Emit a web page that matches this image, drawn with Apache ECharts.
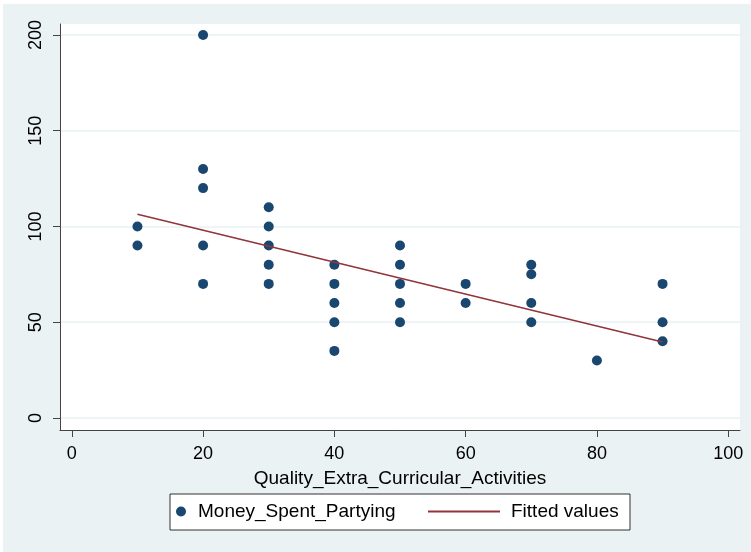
<!DOCTYPE html>
<html>
<head>
<meta charset="utf-8">
<script src="https://cdn.jsdelivr.net/npm/echarts@6/dist/echarts.min.js"></script>
<style>
  html, body { margin: 0; padding: 0; background: #fff; }
  #chart { width: 751px; height: 552px; }
</style>
</head>
<body>
<div id="chart"></div>
<script>
// observed points (x = activities rating, y = money spent)
const activity = [10, 10, 20, 20, 20, 20, 20, 30, 30, 30, 30, 30,
                  40, 40, 40, 40, 40, 50, 50, 50, 50, 50, 60, 60,
                  70, 70, 70, 70, 80, 90, 90, 90];
const money = [100, 90, 200, 130, 120, 90, 70, 110, 100, 90, 80, 70,
               80, 70, 60, 50, 35, 90, 80, 70, 60, 50, 70, 60,
               80, 75, 60, 50, 30, 70, 50, 40];
// fitted line end points
const fitX = [10, 90];
const fitY = [106.4, 39.6];
const xTicks = [0, 20, 40, 60, 80, 100];
const yTicks = [0, 50, 100, 150, 200];

const navy = '#1a476f';
const maroon = '#90353b';
const font = 'Liberation Sans, Arial, sans-serif';

const myChart = echarts.init(document.getElementById('chart'));

const option = {
    backgroundColor: '#fff',
    animation: false,
    graphic: [
        { type: 'rect', z: -10, shape: { x: 3, y: 4, width: 748, height: 548 }, style: { fill: '#eaf2f3' } },
        { type: 'rect', z: 1, shape: { x: 170, y: 494, width: 460, height: 36 }, style: { fill: '#fff', stroke: '#333', lineWidth: 1 } }
    ],
    grid: {
        left: 60, right: 11, top: 24, bottom: 122,
        show: true, backgroundColor: '#fff', borderWidth: 0
    },
    xAxis: {
        type: 'value', min: -1.8, max: 101.8,
        name: 'Quality_Extra_Curricular_Activities',
        nameLocation: 'middle', nameGap: 39,
        nameTextStyle: { fontFamily: font, fontSize: 19, color: '#000' },
        axisLine: { show: true, onZero: false, lineStyle: { color: '#444', width: 1 } },
        axisTick: { show: true, length: 7, customValues: xTicks, lineStyle: { color: '#444' } },
        axisLabel: { customValues: xTicks, margin: 15, fontFamily: font, fontSize: 18, color: '#000' },
        splitLine: { show: false }
    },
    yAxis: {
        type: 'value', min: -6.3, max: 205.7,
        axisLine: { show: true, onZero: false, lineStyle: { color: '#444', width: 1 } },
        axisTick: { show: true, length: 7, customValues: yTicks, lineStyle: { color: '#444' } },
        axisLabel: { customValues: yTicks, rotate: 90, margin: 15, fontFamily: font, fontSize: 18, color: '#000' },
        splitLine: { show: true, lineStyle: { color: '#eaf2f3', width: 1.5 } }
    },
    legend: [
        {
            data: ['Money_Spent_Partying'],
            left: 176, top: 502,
            itemWidth: 10, itemHeight: 10, padding: 0,
            textStyle: { fontFamily: font, fontSize: 19, color: '#000', padding: [0, 0, 0, 7] },
            z: 5
        },
        {
            data: [{ name: 'Fitted values', icon: 'rect' }],
            left: 428, top: 502,
            itemWidth: 72, itemHeight: 2, padding: 0,
            textStyle: { fontFamily: font, fontSize: 19, color: '#000', padding: [0, 0, 0, 6] },
            z: 5
        }
    ],
    series: [
        {
            name: 'Money_Spent_Partying',
            type: 'scatter',
            symbol: 'circle',
            symbolSize: 10,
            itemStyle: { color: navy, opacity: 1 },
            data: activity.map((x, i) => [x, money[i]])
        },
        {
            name: 'Fitted values',
            type: 'line',
            symbol: 'none',
            lineStyle: { color: maroon, width: 1.6 },
            itemStyle: { color: maroon },
            data: fitX.map((x, i) => [x, fitY[i]])
        }
    ]
};

myChart.setOption(option);
</script>
</body>
</html>
